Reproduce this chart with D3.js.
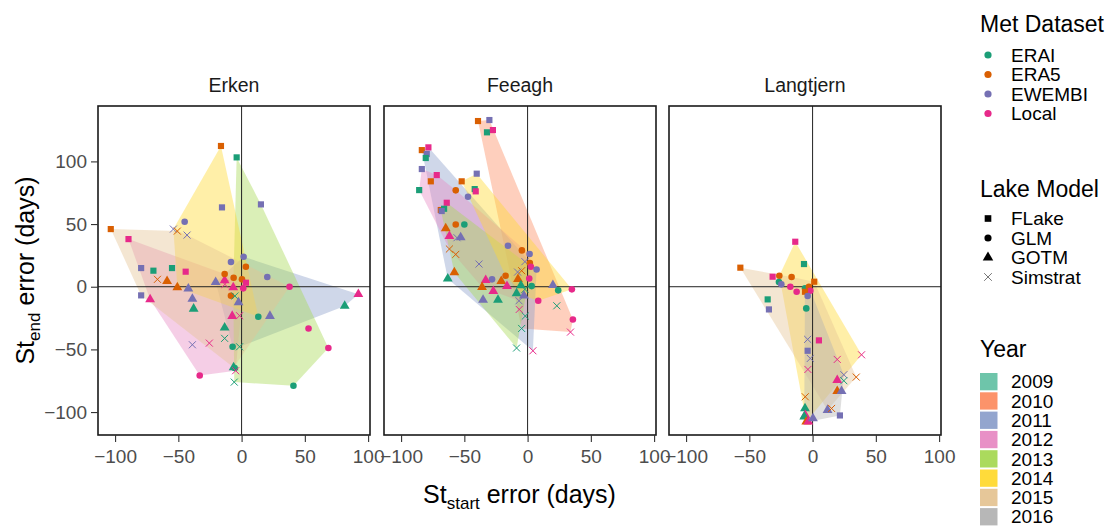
<!DOCTYPE html>
<html>
<head>
<meta charset="utf-8">
<script src="https://cdn.jsdelivr.net/npm/d3@7"></script>
<style>
  body { margin: 0; background: #fff; }
  svg { font-family: "Liberation Sans", Arial, sans-serif; }
</style>
</head>
<body>
<div id="chart"></div>
<script>
// categories
const lakes = ["Erken", "Feeagh", "Langtjern"];
const mets = ["ERAI", "ERA5", "EWEMBI", "Local"];
const metColors = ["#1B9E77", "#D95F02", "#7570B3", "#E7298A"];
const models = ["FLake", "GLM", "GOTM", "Simstrat"];
const years = [2009, 2010, 2011, 2012, 2013, 2014, 2015, 2016];
const yearColors = ["#66C2A5", "#FC8D62", "#8DA0CB", "#E78AC3", "#A6D854", "#FFD92F", "#E5C494", "#B3B3B3"];
const xTicks = [-100, -50, 0, 50, 100];
const yTicks = [-100, -50, 0, 50, 100];

// [St_start error, St_end error, met dataset, lake model, year]
const erkenPts = [
  [-16.3, 112.3, "ERA5", "FLake", 2014], [-3.9, 103.2, "ERAI", "FLake", 2013],
  [-15.5, 63.3, "EWEMBI", "FLake", 2014], [15.3, 65.7, "EWEMBI", "FLake", 2013],
  [-45, 51.9, "EWEMBI", "GLM", 2014], [-53.9, 46, "EWEMBI", "Simstrat", 2014],
  [-50.8, 44.4, "ERA5", "Simstrat", 2015], [-43.1, 41.2, "EWEMBI", "Simstrat", 2015],
  [-103.4, 46, "ERA5", "FLake", 2015], [-89.4, 38, "Local", "FLake", 2012],
  [-79.4, 14.9, "EWEMBI", "FLake", 2015], [-69.7, 12.8, "ERAI", "FLake", 2012],
  [-55, 14.9, "ERAI", "FLake", 2015], [-44.2, 12, "Local", "FLake", 2014],
  [-79.4, -6.9, "EWEMBI", "FLake", 2015], [-66.5, 5.9, "ERA5", "Simstrat", 2012],
  [-58.9, 4.5, "ERA5", "GOTM", 2015], [-50.8, -0.5, "ERA5", "GOTM", 2014],
  [-72.3, -10.1, "Local", "GOTM", 2012], [-42.1, -1.6, "EWEMBI", "GOTM", 2012],
  [-38.9, -9.8, "EWEMBI", "GOTM", 2015], [-37.9, -17.6, "ERAI", "GOTM", 2012],
  [-20.5, 3.7, "EWEMBI", "GOTM", 2011], [-13.4, 5.1, "Local", "GOTM", 2014],
  [-13.4, 10.1, "ERA5", "GLM", 2012], [-6.3, 7.2, "ERA5", "GLM", 2015],
  [-8.4, 19.7, "EWEMBI", "GLM", 2015], [1.6, 23.9, "EWEMBI", "GLM", 2011],
  [3.4, 16, "ERA5", "GLM", 2013], [0.3, 5.9, "ERA5", "GLM", 2014],
  [3.4, 3.2, "Local", "FLake", 2011], [-6.6, -0.5, "Local", "GOTM", 2013],
  [-13.2, 1.9, "Local", "Simstrat", 2015], [1.3, -1.3, "Local", "GLM", 2012],
  [-8.4, -7.2, "ERA5", "GLM", 2011], [-5.3, -7.4, "ERAI", "Simstrat", 2014],
  [-2.4, -12.5, "EWEMBI", "GOTM", 2015], [20.3, 7.7, "EWEMBI", "GLM", 2015],
  [37.9, 0, "Local", "GLM", 2015], [92.3, -5.9, "Local", "GOTM", 2011],
  [81.5, -15.4, "ERAI", "GOTM", 2011], [13.2, -23.9, "ERAI", "GLM", 2014],
  [22.4, -23.4, "EWEMBI", "GOTM", 2013], [-7.4, -23.4, "Local", "GOTM", 2012],
  [-1.6, -23.1, "Local", "Simstrat", 2011], [-13.4, -32.7, "ERAI", "GOTM", 2012],
  [52.9, -33.3, "Local", "GLM", 2013], [-13.4, -41.2, "ERAI", "Simstrat", 2015],
  [-38.9, -46.3, "EWEMBI", "Simstrat", 2012], [-25.5, -45, "Local", "Simstrat", 2015],
  [-7.1, -47.9, "ERAI", "GLM", 2011], [-1.6, -47.9, "ERAI", "Simstrat", 2011],
  [68.6, -48.9, "Local", "GLM", 2013], [-6.3, -64.4, "ERAI", "GOTM", 2015],
  [-5.5, -64.9, "ERAI", "GLM", 2013], [-4.7, -67, "Local", "Simstrat", 2012],
  [-33.1, -70.8, "Local", "GLM", 2012], [-5.8, -76.1, "ERAI", "Simstrat", 2013],
  [41, -79, "ERAI", "GLM", 2013]
];

const feeaghPts = [
  [-39.2, 132.2, "ERA5", "FLake", 2010], [-30.2, 133, "EWEMBI", "FLake", 2010],
  [-32.1, 123.2, "ERAI", "FLake", 2010], [-27.4, 125, "Local", "FLake", 2010],
  [-83.6, 109, "ERA5", "FLake", 2011], [-78.4, 111.2, "Local", "FLake", 2011],
  [-79.7, 105.9, "EWEMBI", "FLake", 2011], [-80.5, 102.7, "ERAI", "FLake", 2011],
  [-83.6, 93.9, "EWEMBI", "FLake", 2012], [-71.8, 89.1, "Local", "FLake", 2012],
  [-76.5, 84.1, "ERA5", "FLake", 2012], [-52.1, 84.1, "ERA5", "FLake", 2014],
  [-40.2, 90.2, "EWEMBI", "FLake", 2014], [-85.7, 77.1, "ERAI", "FLake", 2012],
  [-56.8, 76.9, "ERA5", "GLM", 2012], [-41.8, 77.9, "ERAI", "FLake", 2014],
  [-41, 76.1, "Local", "FLake", 2014], [-47.1, 71.8, "EWEMBI", "GLM", 2011],
  [-63.9, 67, "Local", "FLake", 2013], [-68.6, 61.2, "ERA5", "FLake", 2013],
  [-66, 62.2, "ERAI", "FLake", 2013], [-67.9, 60.4, "EWEMBI", "FLake", 2013],
  [-56.8, 49.7, "ERA5", "GLM", 2011], [-50, 49.7, "ERAI", "GLM", 2013],
  [-64.7, 46.6, "ERA5", "GOTM", 2012], [-61.8, 40.4, "Local", "GOTM", 2011],
  [-52.9, 39.4, "EWEMBI", "GOTM", 2013], [-55.8, 39.1, "EWEMBI", "Simstrat", 2012],
  [-61.8, 30.1, "ERA5", "Simstrat", 2012], [-56.8, 25.8, "ERA5", "Simstrat", 2011],
  [-15.5, 32.7, "EWEMBI", "GLM", 2014], [-4.5, 29, "ERA5", "GLM", 2010],
  [1.6, 26.1, "EWEMBI", "GLM", 2012], [-2.1, 20, "EWEMBI", "Simstrat", 2014],
  [1.8, 18.9, "ERA5", "GLM", 2011], [2.6, 16, "Local", "GLM", 2013],
  [7.1, 13.8, "EWEMBI", "GLM", 2011], [-4.7, 12.8, "ERA5", "Simstrat", 2012],
  [-7.9, 11.7, "EWEMBI", "Simstrat", 2010], [-38.4, 18.1, "EWEMBI", "Simstrat", 2013],
  [-57.9, 11.4, "ERA5", "GOTM", 2013], [-63.1, 6.4, "ERAI", "GOTM", 2011],
  [-17.4, 8.8, "ERA5", "GLM", 2014], [-28.1, 5.9, "EWEMBI", "GLM", 2012],
  [-33.1, 5.3, "Local", "GOTM", 2012], [-20.8, 4.5, "ERA5", "GOTM", 2013],
  [-7.6, 6.1, "ERA5", "GOTM", 2014], [1.3, 6.6, "Local", "GLM", 2012],
  [-16.3, 0.5, "Local", "GOTM", 2011], [-5.3, 1.1, "ERAI", "GOTM", 2012],
  [3.2, 0.5, "ERAI", "GLM", 2014], [20, 1.3, "EWEMBI", "GOTM", 2014],
  [-36, -0.3, "ERA5", "GOTM", 2012], [-27.1, -3.5, "Local", "GOTM", 2013],
  [-8.7, -5.3, "ERAI", "GOTM", 2011], [-2.1, -2.1, "ERAI", "Simstrat", 2013],
  [24.2, -2.9, "ERAI", "GLM", 2010], [35, -2.1, "Local", "GLM", 2014],
  [-2.9, -7.2, "EWEMBI", "GOTM", 2014], [-6.8, -11.2, "EWEMBI", "Simstrat", 2012],
  [-35.2, -10.6, "EWEMBI", "GOTM", 2011], [-23.4, -10.6, "ERAI", "GOTM", 2013],
  [8.4, -11.2, "Local", "GLM", 2014], [23.1, -15.2, "ERAI", "Simstrat", 2010],
  [-6.6, -18.1, "Local", "Simstrat", 2013], [-1.8, -23.4, "ERAI", "Simstrat", 2011],
  [35.8, -26.1, "Local", "GLM", 2010], [-4.7, -33.3, "ERAI", "Simstrat", 2010],
  [33.9, -36.2, "Local", "Simstrat", 2010], [-8.7, -48.9, "ERAI", "Simstrat", 2013],
  [4.2, -51.1, "Local", "Simstrat", 2011]
];

const langtjernPts = [
  [-13.7, 35.9, "Local", "FLake", 2014], [-6.8, 18.1, "ERAI", "FLake", 2014],
  [-57.1, 15.2, "ERA5", "FLake", 2015], [-31.6, 8, "Local", "FLake", 2015],
  [-26.3, 8.8, "ERA5", "GLM", 2014], [-16.6, 7.7, "ERA5", "GLM", 2015],
  [-26.6, 3.7, "ERAI", "GLM", 2015], [-24.7, 1.9, "EWEMBI", "GLM", 2015],
  [-17.6, 0, "Local", "GLM", 2014], [-12.6, -4, "Local", "GLM", 2015],
  [-6, -1.3, "ERAI", "GLM", 2016], [-2.9, 0, "ERA5", "GLM", 2016],
  [-1.8, -3.2, "Local", "GLM", 2014], [-6, -4, "ERA5", "FLake", 2014],
  [1.3, 4, "ERA5", "FLake", 2015], [-3.9, -7.4, "EWEMBI", "GLM", 2016],
  [-35.5, -10.1, "ERAI", "FLake", 2015], [-34.5, -18.1, "EWEMBI", "FLake", 2015],
  [-5, -17.3, "ERAI", "GLM", 2014], [5, -42.8, "Local", "FLake", 2016],
  [-3.9, -42, "EWEMBI", "Simstrat", 2015], [-3.9, -51.1, "EWEMBI", "FLake", 2016],
  [-1.8, -57.2, "EWEMBI", "Simstrat", 2014], [-3.7, -66, "Local", "Simstrat", 2016],
  [19.5, -58, "Local", "Simstrat", 2015], [38.7, -54.3, "Local", "Simstrat", 2014],
  [24.7, -70.2, "EWEMBI", "Simstrat", 2016], [24.7, -75, "ERAI", "Simstrat", 2015],
  [34.5, -72.1, "ERA5", "Simstrat", 2015], [19.5, -74.5, "Local", "GOTM", 2014],
  [19.5, -83.3, "ERA5", "GOTM", 2015], [22.9, -83.3, "EWEMBI", "GOTM", 2016],
  [-5.8, -87.8, "ERA5", "Simstrat", 2014], [-6, -97.1, "ERAI", "GOTM", 2014],
  [-5.8, -102.4, "Local", "GOTM", 2014], [-6.6, -103.7, "ERAI", "GOTM", 2016],
  [-5, -107.7, "ERA5", "GOTM", 2014], [-3.4, -107.7, "Local", "GOTM", 2016],
  [0.3, -105.1, "EWEMBI", "GOTM", 2016], [11.8, -98.4, "EWEMBI", "GOTM", 2015],
  [15, -97.1, "ERA5", "Simstrat", 2016], [21.6, -102.7, "EWEMBI", "FLake", 2016]
];

const panelData = [erkenPts, feeaghPts, langtjernPts];

// layout
const W = 1120, H = 530;
const panelX = [98, 384, 669];
const panelW = 272, panelTop = 106, panelH = 329;

const svg = d3.select("#chart").append("svg")
  .attr("width", W)
  .attr("height", H);

const x = d3.scaleLinear().domain([-113.5, 101.5]).range([0, panelW]);
const y = d3.scaleLinear().domain([-118.3, 144.2]).range([panelH, 0]);

const metColor = d3.scaleOrdinal().domain(mets).range(metColors);
const yearColor = d3.scaleOrdinal().domain(years).range(yearColors);
const shapeOf = d3.scaleOrdinal().domain(models)
  .range([d3.symbolSquare, d3.symbolCircle, d3.symbolTriangle, d3.symbolTimes || d3.symbolCross]);
const sizeOf = d3.scaleOrdinal().domain(models).range([38, 34, 42, 34]);

lakes.forEach((lake, i) => {
  const g = svg.append("g").attr("transform", `translate(${panelX[i]},${panelTop})`);
  const pts = panelData[i];

  // convex hull per year
  const byYear = d3.groups(pts, d => d[4]).sort((a, b) => a[0] - b[0]);
  byYear.forEach(([yr, arr]) => {
    const hull = d3.polygonHull(arr.map(d => [x(d[0]), y(d[1])]));
    if (!hull) return;
    g.append("path")
      .attr("d", "M" + hull.join("L") + "Z")
      .attr("fill", yearColor(yr))
      .attr("fill-opacity", 0.42)
      .attr("stroke", "none");
  });

  // zero lines
  g.append("line").attr("x1", x(0)).attr("x2", x(0)).attr("y1", 0).attr("y2", panelH)
    .attr("stroke", "#222").attr("stroke-width", 1);
  g.append("line").attr("x1", 0).attr("x2", panelW).attr("y1", y(0)).attr("y2", y(0))
    .attr("stroke", "#222").attr("stroke-width", 1);

  // points
  g.selectAll("path.pt").data(pts).enter().append("path")
    .attr("class", "pt")
    .attr("transform", d => `translate(${x(d[0])},${y(d[1])})`)
    .attr("d", d => d3.symbol().type(shapeOf(d[3])).size(sizeOf(d[3]))())
    .attr("fill", d => d[3] === "Simstrat" ? "none" : metColor(d[2]))
    .attr("stroke", d => d[3] === "Simstrat" ? metColor(d[2]) : "none")
    .attr("stroke-width", 1);

  // border
  g.append("rect").attr("width", panelW).attr("height", panelH)
    .attr("fill", "none").attr("stroke", "#1a1a1a").attr("stroke-width", 1.6);

  // x axis
  const xa = g.append("g").attr("transform", `translate(0,${panelH})`)
    .call(d3.axisBottom(x).tickValues(xTicks).tickSize(7).tickPadding(8).tickFormat(d3.format("d")));
  xa.select(".domain").remove();
  xa.selectAll("line").attr("stroke", "#333").attr("stroke-width", 1.1);
  xa.selectAll("text").attr("fill", "#4d4d4d").style("font-size", "19px")
    .style("font-family", "'Liberation Sans', Arial, sans-serif");

  // y axis on first panel only
  if (i === 0) {
    const ya = g.append("g")
      .call(d3.axisLeft(y).tickValues(yTicks).tickSize(7).tickPadding(4).tickFormat(d3.format("d")));
    ya.select(".domain").remove();
    ya.selectAll("line").attr("stroke", "#333").attr("stroke-width", 1.1);
    ya.selectAll("text").attr("fill", "#4d4d4d").style("font-size", "19px")
      .style("font-family", "'Liberation Sans', Arial, sans-serif");
  }

  // strip label
  svg.append("text")
    .attr("x", panelX[i] + panelW / 2).attr("y", 92)
    .attr("text-anchor", "middle")
    .attr("fill", "#1a1a1a").style("font-size", "19.5px")
    .text(lake);
});

// axis titles
const xt = svg.append("text")
  .attr("x", (panelX[0] + panelX[2] + panelW) / 2).attr("y", 503)
  .attr("text-anchor", "middle").attr("fill", "#000").style("font-size", "25px");
xt.append("tspan").text("St");
xt.append("tspan").attr("dy", 6).style("font-size", "17px").text("start");
xt.append("tspan").attr("dy", -6).text("  error (days)");

const yt = svg.append("text")
  .attr("transform", `translate(34,${panelTop + panelH / 2}) rotate(-90)`)
  .attr("text-anchor", "middle").attr("fill", "#000").style("font-size", "25px");
yt.append("tspan").text("St");
yt.append("tspan").attr("dy", 6).style("font-size", "17px").text("end");
yt.append("tspan").attr("dy", -6).text("  error (days)");

// legends
const lx = 980, sx = 988, tx = 1011;
const leg = svg.append("g");

leg.append("text").attr("x", lx).attr("y", 32).style("font-size", "23px").text("Met Dataset");
mets.forEach((m, k) => {
  const cy = 55 + k * 19.5;
  leg.append("circle").attr("cx", sx).attr("cy", cy).attr("r", 3.6).attr("fill", metColor(m));
  leg.append("text").attr("x", tx).attr("y", cy).attr("dy", "0.35em").style("font-size", "19px").text(m);
});

leg.append("text").attr("x", lx).attr("y", 197).style("font-size", "23px").text("Lake Model");
models.forEach((m, k) => {
  const cy = 218.5 + k * 19.5;
  leg.append("path")
    .attr("transform", `translate(${sx},${cy})`)
    .attr("d", d3.symbol().type(shapeOf(m)).size(sizeOf(m) + 6)())
    .attr("fill", m === "Simstrat" ? "none" : "#000")
    .attr("stroke", m === "Simstrat" ? "#777" : "none")
    .attr("stroke-width", 1);
  leg.append("text").attr("x", tx).attr("y", cy).attr("dy", "0.35em").style("font-size", "19px").text(m);
});

leg.append("text").attr("x", lx).attr("y", 357).style("font-size", "23px").text("Year");
years.forEach((yr, k) => {
  const top = 373 + k * 19.3;
  leg.append("rect").attr("x", lx).attr("y", top).attr("width", 17.5).attr("height", 17.3)
    .attr("fill", yearColor(yr)).attr("fill-opacity", 0.95);
  leg.append("text").attr("x", tx).attr("y", top + 8.7).attr("dy", "0.35em")
    .style("font-size", "19px").text(yr);
});
</script>
</body>
</html>
